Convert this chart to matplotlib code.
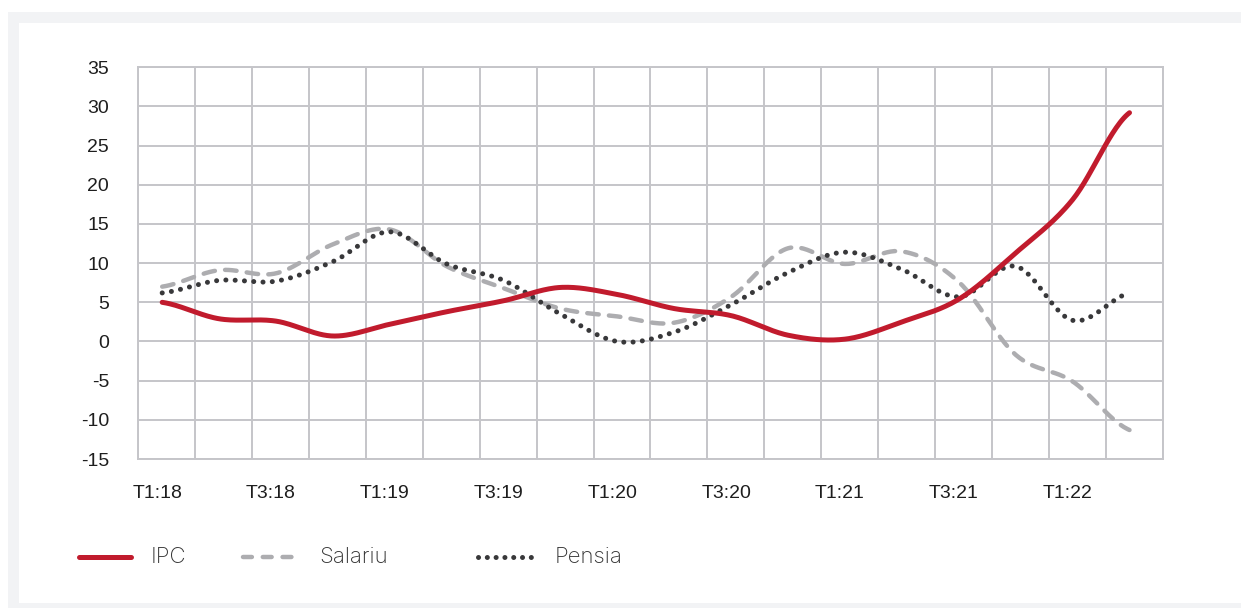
import numpy as np
import matplotlib
matplotlib.use("Agg")
import matplotlib.pyplot as plt
from matplotlib.lines import Line2D
from matplotlib.patches import Rectangle
from matplotlib import font_manager
import matplotlib.transforms as mtransforms

# ---------------- data ----------------
categories = ["T1:18", "T2:18", "T3:18", "T4:18",
              "T1:19", "T2:19", "T3:19", "T4:19",
              "T1:20", "T2:20", "T3:20", "T4:20",
              "T1:21", "T2:21", "T3:21", "T4:21",
              "T1:22", "T2:22"]
ipc = [5.0, 2.9, 2.6, 0.7, 2.2, 3.8, 5.2, 6.9, 6.0, 4.2, 3.3, 0.8,
       0.3, 2.5, 5.4, 11.3, 18.1, 29.2]
salariu = [7.0, 9.1, 8.7, 12.4, 14.3, 9.6, 6.8, 4.2, 3.2, 2.4, 5.7, 11.9,
           9.9, 11.5, 7.6, -1.7, -5.1, -11.3]
pensia = [6.2, 7.8, 7.7, 10.2, 14.0, 9.9, 7.8, 3.5, 0.0, 1.2, 4.7, 8.8,
          11.4, 9.2, 5.7, 9.6, 2.7, 6.2]
series_names = ["IPC", "Salariu", "Pensia"]
y_ticks = list(range(-15, 40, 5))


def font_or(name, fallback):
    try:
        font_manager.findfont(name, fallback_to_default=False)
        return name
    except Exception:
        return fallback


TICK_FONT = font_or("Liberation Sans", "DejaVu Sans")
LEG_FONT = font_or("Inter", "DejaVu Sans")


def smooth(y, n=30):
    """Catmull-Rom (Excel-like) smoothing for display."""
    y = np.asarray(y, float)
    k = len(y)
    m = np.zeros(k)
    m[1:-1] = (y[2:] - y[:-2]) / 2.0
    m[0] = (y[1] - y[0]) / 2.0
    m[-1] = (y[-1] - y[-2]) / 2.0
    xs, ys = [], []
    t = np.linspace(0, 1, n, endpoint=False)
    h00 = 2 * t**3 - 3 * t**2 + 1
    h10 = t**3 - 2 * t**2 + t
    h01 = -2 * t**3 + 3 * t**2
    h11 = t**3 - t**2
    for i in range(k - 1):
        xs.append(i + t)
        ys.append(h00 * y[i] + h10 * m[i] + h01 * y[i + 1] + h11 * m[i + 1])
    xs.append(np.array([k - 1.0]))
    ys.append(np.array([y[-1]]))
    return np.concatenate(xs), np.concatenate(ys)


W, H = 1241, 608
fig = plt.figure(figsize=(W / 100, H / 100), dpi=100)
fig.patch.set_facecolor("white")

# outer light frame
fig.add_artist(Rectangle((8 / W, 0), 1, 1 - 12 / H, transform=fig.transFigure,
                         facecolor="#F2F3F5", edgecolor="none", zorder=-20))
fig.add_artist(Rectangle((19 / W, 5 / H), 1, 1 - 28 / H, transform=fig.transFigure,
                         facecolor="white", edgecolor="none", zorder=-19))

ax = fig.add_axes([138.3 / W, 1 - 459 / H, (1162.5 - 138.3) / W, (459 - 67.3) / H])
ax.set_facecolor("none")

RED = "#C11B2D"
GRAY = "#ADADB0"
DARK = "#38383A"
GRID = "#C5C5C9"

IPC_STYLE = dict(color=RED, lw=3.6, linestyle="-")
SAL_STYLE = dict(color=GRAY, lw=3.2, linestyle=(0, (2.6, 2.3)))
PEN_STYLE = dict(color=DARK, lw=3.6, linestyle=(0, (0.01, 1.85)))

n = len(categories)
x = np.arange(n)

xs, ys = smooth(ipc)
ax.plot(xs, ys, solid_capstyle="round", zorder=3, label=series_names[0], **IPC_STYLE)
xs, ys = smooth(salariu)
ax.plot(xs, ys, dash_capstyle="round", zorder=2, label=series_names[1], **SAL_STYLE)
xs, ys = smooth(pensia)
ax.plot(xs, ys, dash_capstyle="round", zorder=2.5, label=series_names[2], **PEN_STYLE)

ax.set_xlim(-0.42, n - 1 + 0.58)
ax.set_ylim(y_ticks[0], y_ticks[-1])

# gridlines at category boundaries
ax.set_xticks(np.arange(n + 1) - 0.42, minor=True)
ax.set_xticks(x[::2])
ax.set_xticklabels(categories[::2])
ax.set_yticks(y_ticks)
ax.set_yticklabels([str(v) for v in y_ticks])
ax.grid(True, which="minor", axis="x", color=GRID, lw=1.4)
ax.grid(True, which="major", axis="y", color=GRID, lw=1.4)
ax.set_axisbelow(True)
ax.tick_params(which="both", length=0)
ax.tick_params(axis="y", pad=21, labelsize=14, labelcolor="#1E1E1E")
ax.tick_params(axis="x", pad=19, labelsize=14, labelcolor="#1E1E1E")
for lab in ax.get_xticklabels() + ax.get_yticklabels():
    lab.set_fontfamily(TICK_FONT)
offset = mtransforms.ScaledTranslation(-5 / 100, 0, fig.dpi_scale_trans)
for lab in ax.get_xticklabels():
    lab.set_transform(lab.get_transform() + offset)
for sp in ax.spines.values():
    sp.set_color(GRID)
    sp.set_linewidth(1.4)

# manual legend
leg_y = 1 - 557 / H
handles = [
    dict(x0=79, x1=131, style=IPC_STYLE, tx=151),
    dict(x0=243, x1=296, style=dict(SAL_STYLE, linestyle=(0, (2.0, 2.45))), tx=319),
    dict(x0=478, x1=532, style=dict(PEN_STYLE, linestyle=(0, (0.01, 1.75))), tx=555),
]
for name, h in zip(series_names, handles):
    fig.add_artist(Line2D([h["x0"] / W, h["x1"] / W], [leg_y, leg_y],
                          transform=fig.transFigure, solid_capstyle="round",
                          dash_capstyle="round", **h["style"]))
    fig.text(h["tx"] / W, leg_y, name, fontsize=16, family=LEG_FONT,
             fontweight="light", color="#333333", va="center", ha="left")

fig.savefig("out.png", dpi=100, facecolor=fig.get_facecolor())
